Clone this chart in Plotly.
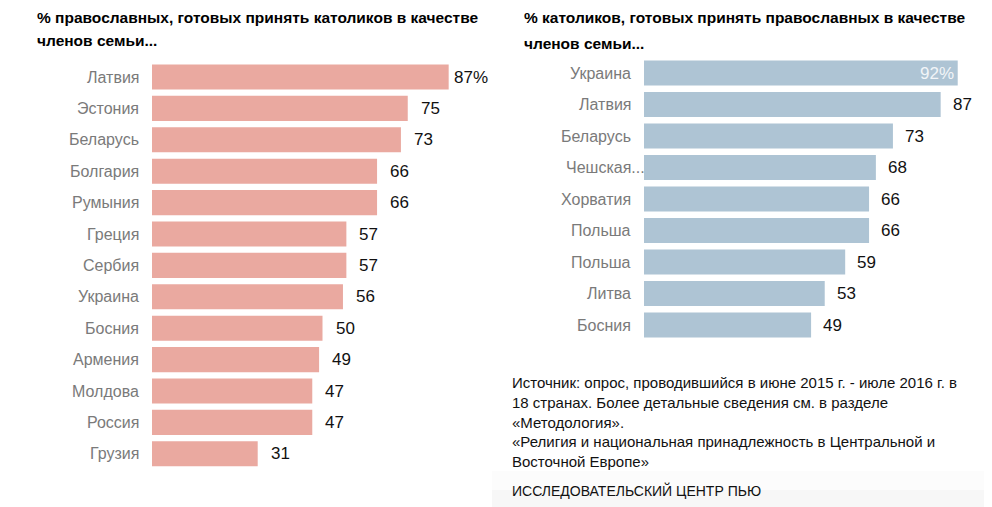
import plotly.graph_objects as go

# The page body has an 8px margin, so the figure is sized to fit the window.
OFF = 8
W, H = 992 - OFF, 507 - OFF

left_title = ["% православных, готовых принять католиков в качестве", "членов семьи..."]
left_countries = ["Латвия", "Эстония", "Беларусь", "Болгария", "Румыния", "Греция", "Сербия",
                  "Украина", "Босния", "Армения", "Молдова", "Россия", "Грузия"]
left_values = [87, 75, 73, 66, 66, 57, 57, 56, 50, 49, 47, 47, 31]

right_title = ["% католиков, готовых принять православных в качестве", "членов семьи..."]
right_countries = ["Украина", "Латвия", "Беларусь", "Чешская...", "Хорватия", "Польша",
                   "Польша", "Литва", "Босния"]
right_values = [92, 87, 73, 68, 66, 66, 59, 53, 49]

source_lines = [
    "Источник: опрос, проводившийся в июне 2015 г. - июле 2016 г. в",
    "18 странах. Более детальные сведения см. в разделе",
    "«Методология».",
    "«Религия и национальная принадлежность в Центральной и",
    "Восточной Европе»",
]
credit = "ИССЛЕДОВАТЕЛЬСКИЙ ЦЕНТР ПЬЮ"

LEFT_COLOR = "#EAA9A0"
RIGHT_COLOR = "#AEC4D4"
FONT = "Liberation Sans, Arial, sans-serif"


def px(x):
    return (x - OFF) / W


def py(y):
    return 1 - (y - OFF) / H


fig = go.Figure()
fig.add_trace(go.Bar(x=left_values, y=list(range(len(left_values))), orientation="h",
                     marker=dict(color=LEFT_COLOR, line=dict(width=0)),
                     xaxis="x", yaxis="y", hoverinfo="skip"))
fig.add_trace(go.Bar(x=right_values, y=list(range(len(right_values))), orientation="h",
                     marker=dict(color=RIGHT_COLOR, line=dict(width=0)),
                     xaxis="x2", yaxis="y2", hoverinfo="skip"))

ann = []
for i, (c, v) in enumerate(zip(left_countries, left_values)):
    ann.append(dict(x=px(141), xref="paper", y=i, yref="y", text=c, showarrow=False,
                    xanchor="right", yanchor="middle",
                    font=dict(family=FONT, size=16, color="#7a7a7a")))
    ann.append(dict(x=v, xref="x", y=i, yref="y", text=(f"{v}%" if i == 0 else str(v)),
                    showarrow=False, xanchor="left", yanchor="middle",
                    xshift=(3 if i == 0 else 11),
                    font=dict(family=FONT, size=17, color="#111111")))
for i, (c, v) in enumerate(zip(right_countries, right_values)):
    lx = 647 if c.endswith("...") else 633
    ann.append(dict(x=px(lx), xref="paper", y=i, yref="y2", text=c, showarrow=False,
                    xanchor="right", yanchor="middle",
                    font=dict(family=FONT, size=16, color="#7a7a7a")))
    if i == 0:
        ann.append(dict(x=v, xref="x2", y=i, yref="y2", text=f"{v}%", showarrow=False,
                        xanchor="right", yanchor="middle", xshift=-2,
                        font=dict(family=FONT, size=17, color="#f2f5f8")))
    else:
        ann.append(dict(x=v, xref="x2", y=i, yref="y2", text=str(v), showarrow=False,
                        xanchor="left", yanchor="middle", xshift=10,
                        font=dict(family=FONT, size=17, color="#111111")))

for t, y in zip(left_title, [17, 41]):
    ann.append(dict(x=px(35), xref="paper", y=py(y), yref="paper", text=f"<b>{t}</b>",
                    showarrow=False, xanchor="left", yanchor="middle",
                    font=dict(family=FONT, size=15.5, color="#000000")))
for t, y in zip(right_title, [17, 44]):
    ann.append(dict(x=px(522), xref="paper", y=py(y), yref="paper", text=f"<b>{t}</b>",
                    showarrow=False, xanchor="left", yanchor="middle",
                    font=dict(family=FONT, size=15.5, color="#000000")))

for t, y in zip(source_lines, [382, 402, 422, 441, 461]):
    ann.append(dict(x=px(510), xref="paper", y=py(y), yref="paper", text=t,
                    showarrow=False, xanchor="left", yanchor="middle",
                    font=dict(family=FONT, size=15, color="#111111")))
ann.append(dict(x=px(510), xref="paper", y=py(490), yref="paper", text=credit,
                showarrow=False, xanchor="left", yanchor="middle",
                font=dict(family=FONT, size=14, color="#111111")))

nl, nr = len(left_values), len(right_values)
fig.update_layout(
    width=W, height=H,
    margin=dict(l=0, r=0, t=0, b=0),
    paper_bgcolor="white", plot_bgcolor="white",
    showlegend=False,
    bargap=0.2,
    xaxis=dict(domain=[px(152), px(152 + 341)], range=[0, 100], visible=False, fixedrange=True),
    yaxis=dict(domain=[py(469.5), py(61.3)], range=[nl - 0.5, -0.5], visible=False, fixedrange=True),
    xaxis2=dict(domain=[px(644), px(644 + 341)], range=[0, 100], visible=False, fixedrange=True,
                anchor="y2"),
    yaxis2=dict(domain=[py(340.75), py(57.25)], range=[nr - 0.5, -0.5], visible=False,
                fixedrange=True, anchor="x2"),
    annotations=ann,
    shapes=[
        dict(type="rect", xref="paper", yref="paper", x0=px(492), x1=1, y0=0, y1=py(471),
             fillcolor="#fcfcfc", line=dict(width=0), layer="below"),
        dict(type="rect", xref="paper", yref="paper", x0=px(492), x1=1, y0=0, y1=py(490),
             fillcolor="#f7f7f7", line=dict(width=0), layer="below"),
    ],
)

fig.write_html("out.html")
